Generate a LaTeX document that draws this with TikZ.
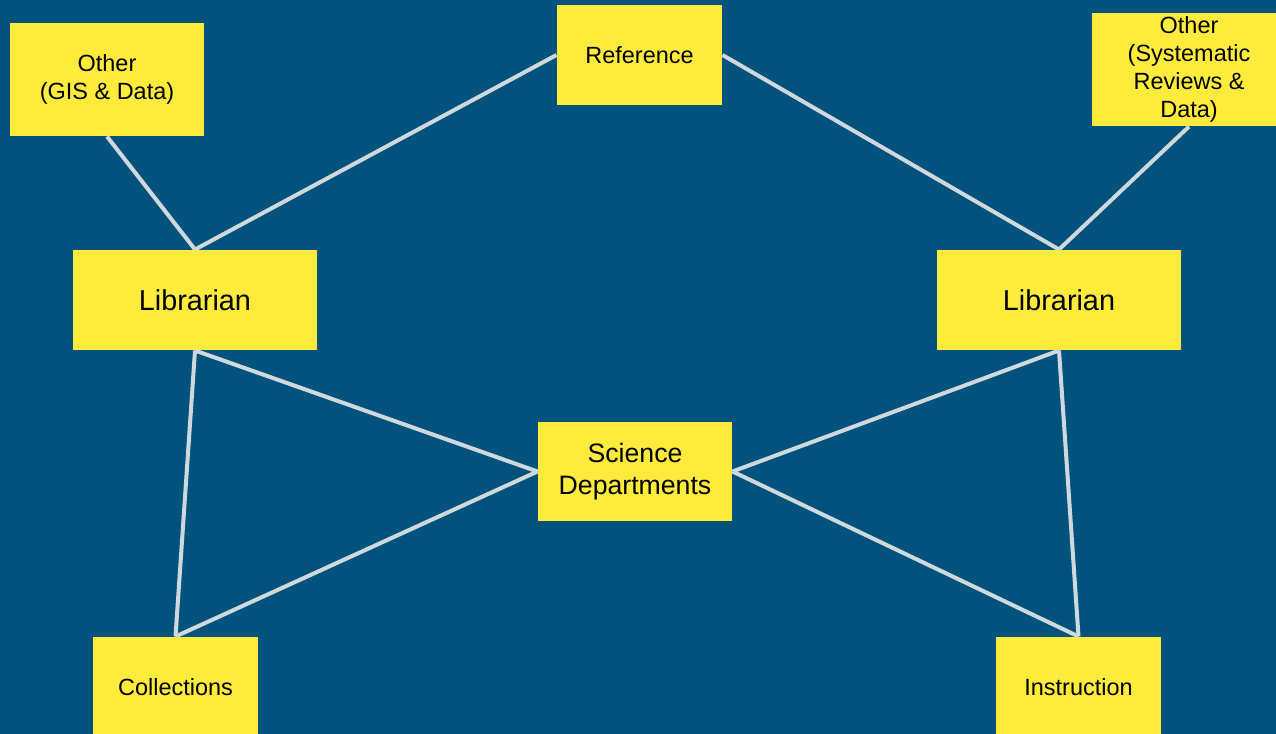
\documentclass[tikz,border=0pt]{standalone}
\usepackage{fontspec}
\setmainfont{Liberation Sans}

\definecolor{bgblue}{RGB}{1,82,124}
\definecolor{boxyellow}{RGB}{255,235,59}
\definecolor{linegrey}{RGB}{207,216,220}

\tikzset{every picture/.style={line width=0.75pt}}
\tikzset{
  card/.style={fill=boxyellow, draw=none, inner sep=0pt, align=center, text=black},
  smallcard/.style={card, font=\fontsize{17.6}{21}\selectfont},
  midcard/.style={card, font=\fontsize{20}{24}\selectfont},
  bigcard/.style={card, font=\fontsize{21.6}{26}\selectfont},
  conn/.style={draw=linegrey, line width=3pt}
}

\begin{document}
\begin{tikzpicture}[x=0.75pt,y=0.75pt,yscale=-1,xscale=1]
		%set diagram 1276 wide and 734 high
		\useasboundingbox (0,0) rectangle (1276,734);
		\fill [bgblue] (0,0) rectangle (1276,734);
		\clip (0,0) rectangle (1276,734);

		% Text Node
		\node (gis) [smallcard, minimum width=145.5pt, minimum height=84.75pt] at (107,79.5) {Other\\(GIS \& Data)};
		% Text Node
		\node (ref) [smallcard, minimum width=123.75pt, minimum height=75pt] at (639.5,55) {Reference};
		% Text Node
		\node (sysrev) [smallcard, minimum width=145.5pt, minimum height=84.75pt] at (1189,69.5) {Other\\(Systematic\\Reviews \&\\Data)};
		% Text Node
		\node (libL) [bigcard, minimum width=183pt, minimum height=75pt] at (195,300) {Librarian};
		% Text Node
		\node (libR) [bigcard, minimum width=183pt, minimum height=75pt] at (1059,300) {Librarian};
		% Text Node
		\node (sci) [midcard, minimum width=145.5pt, minimum height=74.25pt] at (635,471.5) {Science\\Departments};
		% Text Node
		\node (coll) [smallcard, minimum width=123.75pt, minimum height=75pt] at (175.5,687) {Collections};
		% Text Node
		\node (instr) [smallcard, minimum width=123.75pt, minimum height=75pt] at (1078.5,687) {Instruction};

		%Straight Lines
		\draw [conn] (gis.south) -- (libL.north);
		\draw [conn] (ref.west) -- (libL.north);
		\draw [conn] (ref.east) -- (libR.north);
		\draw [conn] (sysrev.south) -- (libR.north);
		\draw [conn] (libL.south) -- (sci.west);
		\draw [conn] (libL.south) -- (coll.north);
		\draw [conn] (sci.west) -- (coll.north);
		\draw [conn] (libR.south) -- (sci.east);
		\draw [conn] (libR.south) -- (instr.north);
		\draw [conn] (sci.east) -- (instr.north);

\end{tikzpicture}
\end{document}
